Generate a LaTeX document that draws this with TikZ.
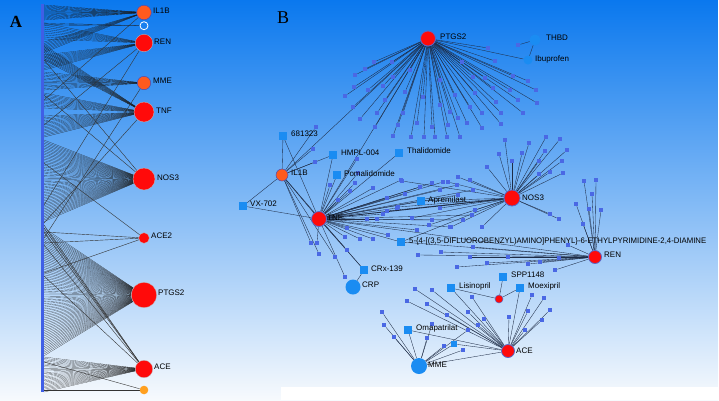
\documentclass[tikz,border=0pt]{standalone}
\usepackage{fontspec}
\setmainfont{Liberation Sans}
\newfontfamily\serifA{Liberation Serif}
\definecolor{bgtop}{HTML}{0A78EE}
\definecolor{bgmid}{HTML}{86BCF2}
\definecolor{bgbot}{HTML}{F7FAFD}
\definecolor{barblue}{HTML}{3F5FE6}
\definecolor{dotblue}{HTML}{4A68E4}
\definecolor{drugblue}{HTML}{1A8CF2}
\definecolor{hubred}{HTML}{FF0A0A}
\definecolor{huborange}{HTML}{FF5A1E}
\definecolor{lightorange}{HTML}{FFA020}
\definecolor{edgecol}{HTML}{1E2C46}
\definecolor{rimblue}{HTML}{5868C8}
\pgfdeclarelayer{bg}
\pgfdeclarelayer{edges}
\pgfsetlayers{bg,edges,main}
\tikzset{
 fanA/.style={line width=0.14pt, draw=black!90},
 longA/.style={line width=0.4pt, draw=black!80},
 edgeB/.style={line width=0.35pt, draw=edgecol},
 dotn/.style={rectangle, fill=dotblue, minimum size=4.4pt, inner sep=0pt},
 drug/.style={rectangle, fill=drugblue, minimum size=8pt, inner sep=0pt},
 redhub/.style={circle, fill=hubred, draw=rimblue, line width=0.8pt, inner sep=0pt},
 orahub/.style={circle, fill=huborange, draw=gray!60!blue, line width=0.5pt, inner sep=0pt},
 ahub/.style={circle, fill=hubred, draw=gray!50, line width=0.3pt, inner sep=0pt},
 bluehub/.style={circle, fill=drugblue, inner sep=0pt},
 lab/.style={anchor=west, inner sep=0pt, font=\fontsize{8}{9}\selectfont},
}
\newcommand\edg[3][]{\draw[edgeB,#1] (#2) -- (#3);}
\newcommand\afan[4]{\foreach \yy in {#1,#2,...,#3}{\coordinate (fq) at (44,\yy); \draw[fanA] (fq) -- (#4);}}
\newcommand\aone[2]{\coordinate (fq) at (44,#1); \draw[longA] (fq) -- (#2);}
\def\PGlist{374/62,365/69,355/75,354/87,345/96,353/107,360/119,375/127,377/113,383/86,393/77,393/136,398/125,403/113,411/137,417/123,423/97,424/137,432/127,435/137,447/137,448/125,458/118,460/137,467/123,470/107,475/93,473/77,488/48,495/61,513/76,528/81,536/90,537/103,518/100,523/113,510/90,501/113,501/124,496/102,493/88,482/128,482/113,385/100,405/92,440/105,455/95,485/78,410/70,440/80,462/62,392/62,368/90,450/112}
\def\ILlist{316/127,313/149,315/162,319/254,335/257,311/243}
\def\TNlist{357/159,358/173,350/191,355/183,373/188,387/198,401/180,405/194,367/219,377/219,383/214,347/228,360/239,373/239,388/235,345/237,317/243,347/250,345/277,397/208,420/187,432/183,443/182,440/190,457/185,458/195,473/190,432/220,450/227,463/220,472/215,417/230,338/200,330/185}
\def\NSlist{546/137,560/139,567/150,545/151,539/161,562/161,550/172,563/173,539/174,499/154,512/161,522/153,529/143,487/167,550/214,559/219,458/177,448/182,402/181,440/208,451/227,482/227,429/225,412/218,398/207,387/211,475/210,470/180,505/140}
\def\RNlist{584/181,596/180,592/194,576/204,589/209,601/210,583/224,568/245,559/258,555/270,528/264,508/257,487/263,470/257,457/267,441/252,418/255,473/247,540/262}
\def\AClist{415/289,432/290,407/301,427/304,447/315,468/312,472/297,484/319,478/325,509/317,528/311,532/295,544/298,542/320,550/310,525/330}
\def\MMlist{382/312,384/325,394/337,432/324,427/338,444/346,463/350,468/330}
\begin{document}
\begin{tikzpicture}[x=1pt,y=-1pt]
\useasboundingbox (0,0) rectangle (719,400);
\begin{pgfonlayer}{bg}
\shade[top color=bgtop, middle color=bgmid, bottom color=bgbot] (0,0) rectangle (718,400);
\fill[white] (281,387) rectangle (719,400);
\fill[white] (718,0) rectangle (719,400);
\end{pgfonlayer}

% ---------------- Panel A nodes ----------------
\node[font=\serifA\bfseries\fontsize{17}{18}\selectfont, inner sep=0] (labA) at (16,22) {A};
\fill[barblue] (41,4) rectangle (44,392);
\node[orahub, minimum size=14.6pt] (aIL1B) at (144,12.5) {};
\node[circle, draw=white, line width=0.8pt, minimum size=8pt, inner sep=0pt] (aE) at (144,25.7) {};
\node[ahub, minimum size=17.4pt] (aREN) at (144,43) {};
\node[orahub, minimum size=13.4pt] (aMME) at (144,83) {};
\node[ahub, minimum size=20pt] (aTNF) at (144,112) {};
\node[ahub, minimum size=22pt] (aNOS3) at (144,179) {};
\node[ahub, minimum size=10.6pt] (aACE2) at (144,238) {};
\node[ahub, minimum size=25.4pt] (aPTGS2) at (144,295) {};
\node[ahub, minimum size=17.4pt] (aACE) at (144,369) {};
\node[circle, fill=lightorange, minimum size=8.6pt, inner sep=0pt] (aSm) at (144,390) {};
\node[lab] (laIL1B) at (153,11) {IL1B};
\node[lab] (laREN) at (154,42) {REN};
\node[lab] (laMME) at (153,81) {MME};
\node[lab] (laTNF) at (156,111) {TNF};
\node[lab] (laNOS3) at (157,178) {NOS3};
\node[lab] (laACE2) at (151,236) {ACE2};
\node[lab] (laPTGS2) at (158,293) {PTGS2};
\node[lab] (laACE) at (154,367) {ACE};

% ---------------- Panel B nodes ----------------
\node[font=\serifA\fontsize{18}{19}\selectfont, inner sep=0] (labB) at (283,18) {B};
\node[redhub, minimum size=15pt] (PTGS2) at (428,38.5) {};
\node[bluehub, minimum size=11pt] (THBD) at (535,40) {};
\node[bluehub, minimum size=9pt] (Ibu) at (528,60) {};
\node[orahub, minimum size=12pt] (IL1B) at (282,175) {};
\node[redhub, minimum size=15pt] (TNF) at (319,219) {};
\node[redhub, minimum size=16pt] (NOS3) at (512,198) {};
\node[redhub, minimum size=13pt] (REN) at (595,257) {};
\node[redhub, minimum size=13pt] (ACE) at (508,351) {};
\node[bluehub, minimum size=15pt] (CRP) at (353,287) {};
\node[bluehub, minimum size=16pt] (MME) at (419,366) {};
\node[redhub, line width=0.5pt, minimum size=8pt] (ACE2) at (499,299) {};
\node[drug] (d681) at (283,136) {};
\node[drug] (HMPL) at (333,155) {};
\node[drug] (Thal) at (399,153) {};
\node[drug] (Poma) at (337,175) {};
\node[drug] (VX) at (243,206) {};
\node[drug] (Apre) at (421,201) {};
\node[drug] (Dfl) at (401,242) {};
\node[drug] (CRx) at (364,270) {};
\node[drug] (SPP) at (503,277) {};
\node[drug] (Lisi) at (451,288) {};
\node[drug] (Moex) at (520,288) {};
\node[drug] (Omap) at (408,330) {};
\node[drug, minimum size=6pt] (sq) at (454,344) {};
\node[dotn] (th1) at (518,45) {};
\foreach \px/\py [count=\i] in \PGlist {\node[dotn] (pg\i) at (\px,\py) {};}
\foreach \px/\py [count=\i] in \ILlist {\node[dotn] (il\i) at (\px,\py) {};}
\foreach \px/\py [count=\i] in \TNlist {\node[dotn] (tn\i) at (\px,\py) {};}
\foreach \px/\py [count=\i] in \NSlist {\node[dotn] (ns\i) at (\px,\py) {};}
\foreach \px/\py [count=\i] in \RNlist {\node[dotn] (rn\i) at (\px,\py) {};}
\foreach \px/\py [count=\i] in \AClist {\node[dotn] (ac\i) at (\px,\py) {};}
\foreach \px/\py [count=\i] in \MMlist {\node[dotn] (mm\i) at (\px,\py) {};}

\node[lab] (lPTGS2) at (440,37) {PTGS2};
\node[lab] (lTHBD) at (546,38) {THBD};
\node[lab] (lIbu) at (535,59) {Ibuprofen};
\node[lab] (l681) at (291,134) {681323};
\node[lab] (lIL1B) at (291,173) {IL1B};
\node[lab] (lHMPL) at (341,153) {HMPL-004};
\node[lab] (lThal) at (407,151) {Thalidomide};
\node[lab] (lPoma) at (344,174) {Pomalidomide};
\node[lab] (lVX) at (250,204) {VX-702};
\node[lab] (lTNF) at (327,218) {TNF};
\node[lab] (lApre) at (428,200) {Apremilast};
\node[lab] (lNOS3) at (522,198) {NOS3};
\node[lab] (lDfl) at (409,241) {\resizebox{297pt}{\height}{5-\{4-[(3,5-DIFLUOROBENZYL)AMINO]PHENYL\}-6-ETHYLPYRIMIDINE-2,4-DIAMINE}};
\node[lab] (lREN) at (604,255) {REN};
\node[lab] (lCRx) at (371,269) {CRx-139};
\node[lab] (lCRP) at (362,285) {CRP};
\node[lab] (lSPP) at (511,275) {SPP1148};
\node[lab] (lLisi) at (459,286) {Lisinopril};
\node[lab] (lMoex) at (528,286) {Moexipril};
\node[lab] (lOmap) at (416,328) {Omapatrilat};
\node[lab] (lACE) at (516,351) {ACE};
\node[lab] (lMME) at (428,365) {MME};

% ---------------- all connectors ----------------
\begin{pgfonlayer}{edges}
\afan{5}{6}{20}{aIL1B}
\afan{42}{43.5}{53}{aIL1B}
\afan{23}{24}{25}{aE}
\afan{23}{25}{40}{aREN}
\afan{55}{56.5}{70}{aREN}
\afan{72}{73.5}{90}{aMME}
\afan{45}{46.5}{60}{aTNF}
\afan{93}{94.5}{108}{aTNF}
\afan{116}{117.5}{137}{aTNF}
\afan{140}{141.6}{222}{aNOS3}
\afan{228}{229.8}{356}{aPTGS2}
\afan{357}{358.4}{392}{aACE}
\aone{100}{aIL1B}
\aone{125}{aREN}
\aone{205}{aREN}
\aone{223}{aTNF}
\aone{238}{aMME}
\aone{95}{aNOS3}
\aone{60}{aNOS3}
\aone{163}{aACE2}
\aone{232}{aACE2}
\aone{243}{aACE2}
\aone{273}{aACE2}
\aone{225}{aACE}
\aone{228}{aACE}
\aone{232}{aACE}
\aone{245}{aACE}
\aone{276}{aACE}
\aone{362}{aSm}
\aone{390}{aSm}

\foreach \px/\py [count=\i] in \PGlist {\edg{PTGS2}{pg\i}}
\foreach \px/\py [count=\i] in \ILlist {\edg{IL1B}{il\i}}
\foreach \px/\py [count=\i] in \TNlist {\edg{TNF}{tn\i}}
\foreach \px/\py [count=\i] in \NSlist {\edg{NOS3}{ns\i}}
\foreach \px/\py [count=\i] in \RNlist {\edg{REN}{rn\i}}
\foreach \px/\py [count=\i] in \AClist {\edg{ACE}{ac\i}}
\foreach \px/\py [count=\i] in \MMlist {\edg{MME}{mm\i}}
\edg{THBD}{th1}
\edg{THBD}{Ibu}
\edg{PTGS2}{Ibu}
\edg{IL1B}{d681}
\edg{IL1B}{HMPL}
\edg{IL1B}{VX}
\edg[line width=0.5pt]{IL1B}{TNF}
\edg{IL1B}{PTGS2}
\edg{IL1B}{CRx}
\edg{TNF}{d681}
\edg{TNF}{HMPL}
\edg{TNF}{Poma}
\edg{TNF}{Thal}
\edg{TNF}{VX}
\edg{TNF}{Apre}
\edg{TNF}{Dfl}
\edg{TNF}{CRx}
\edg[line width=0.9pt]{TNF}{NOS3}
\edg{TNF}{REN}
\edg{TNF}{PTGS2}
\edg{CRx}{CRP}
\edg{NOS3}{Apre}
\edg{NOS3}{Dfl}
\edg{REN}{Dfl}
\edg{ACE}{Lisi}
\edg{ACE}{Moex}
\edg{ACE}{Omap}
\edg{ACE}{sq}
\edg{ACE}{MME}
\edg{ACE2}{Lisi}
\edg{ACE2}{Moex}
\edg{ACE2}{SPP}
\edg{MME}{Omap}
\edg{MME}{sq}
\end{pgfonlayer}
\end{tikzpicture}
\end{document}
